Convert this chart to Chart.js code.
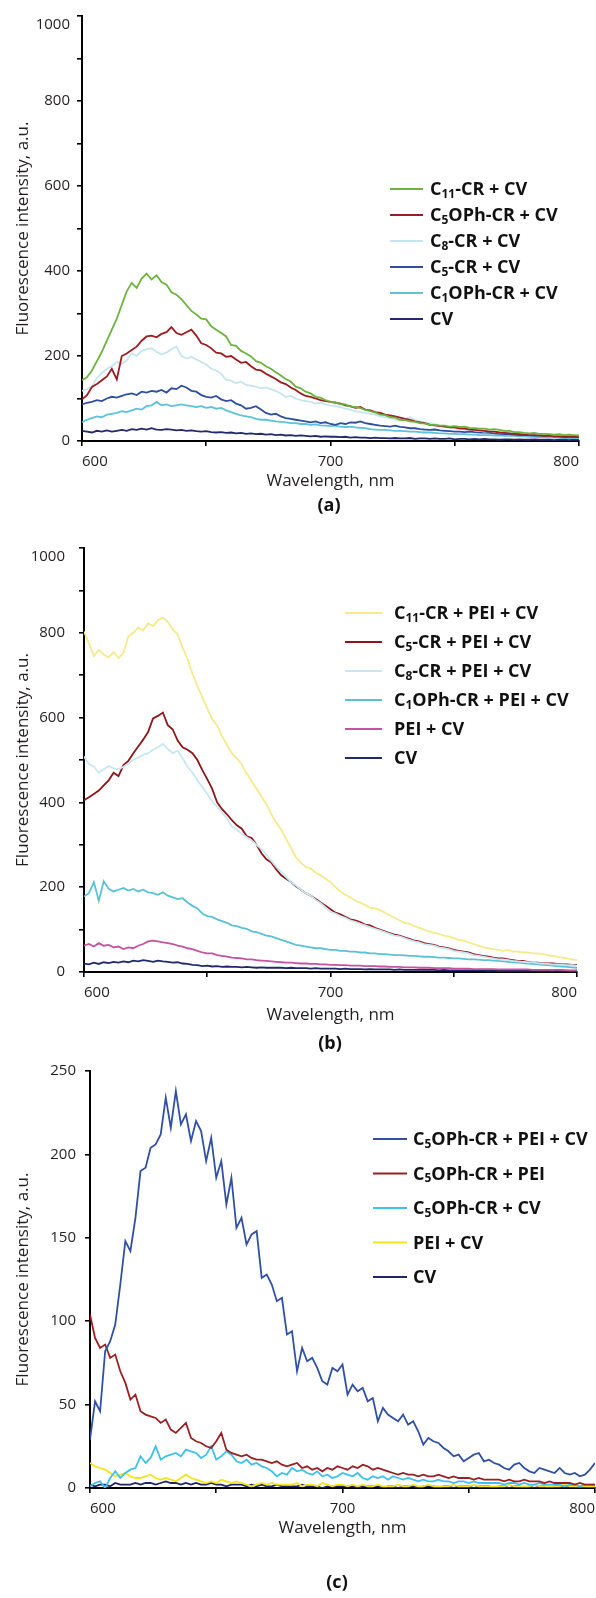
<!DOCTYPE html>
<html>
<head>
<meta charset="utf-8">
<script src="https://cdn.jsdelivr.net/npm/chart.js@4.4.1/dist/chart.umd.min.js"></script>
<style>
  html, body { margin: 0; padding: 0; background: #fff; }
  body { width: 596px; height: 1598px; position: relative; overflow: hidden; }
  canvas { position: absolute; left: 0; }
</style>
</head>
<body>
<canvas id="panelA" width="596" height="525" style="top:0px;width:596px;height:525px"></canvas>
<canvas id="panelB" width="596" height="530" style="top:525px;width:596px;height:530px"></canvas>
<canvas id="panelC" width="596" height="543" style="top:1055px;width:596px;height:543px"></canvas>
<script>
// Emission wavelengths (nm), shared by every spectrum
const wavelengths = [
  600,602,604,606,608,610,612,614,616,618,
  620,622,624,626,628,630,632,634,636,638,
  640,642,644,646,648,650,652,654,656,658,
  660,662,664,666,668,670,672,674,676,678,
  680,682,684,686,688,690,692,694,696,698,
  700,702,704,706,708,710,712,714,716,718,
  720,722,724,726,728,730,732,734,736,738,
  740,742,744,746,748,750,752,754,756,758,
  760,762,764,766,768,770,772,774,776,778,
  780,782,784,786,788,790,792,794,796,798,
  800
];

const xTickLabels = [600, 700, 800];
const yTickLabelsAB = [0, 200, 400, 600, 800, 1000];
const yTickLabelsC = [0, 50, 100, 150, 200, 250];

// ---- Panel (a): calixresorcinarenes + CV ----
const legendA = ['C₁₁-CR + CV', 'C₅OPh-CR + CV', 'C₈-CR + CV', 'C₅-CR + CV', 'C₁OPh-CR + CV', 'CV'];
const c11CrCv = [
  143,150,166,188,210,236,262,288,320,352,
  372,360,382,394,380,390,374,368,350,344,
  334,320,306,298,288,286,270,262,254,246,
  226,224,212,206,199,188,184,176,170,162,
  154,146,140,128,124,116,112,104,102,96,
  92,91,86,86,81,80,78,73,70,67,
  62,61,56,55,50,49,46,45,42,41,
  38,38,36,36,34,35,33,34,31,30,
  29,29,27,28,26,24,24,21,21,19,
  18,19,17,17,16,15,16,14,15,14,
  13
];
const c5OPhCrCvA = [
  98,108,127,134,143,152,170,145,200,206,
  214,222,236,246,248,244,252,256,268,254,
  250,256,262,248,230,226,218,208,206,198,
  200,192,184,186,176,168,166,158,152,146,
  138,134,126,120,112,106,104,100,96,94,
  92,90,88,84,82,78,80,74,72,68,
  66,62,60,58,55,52,50,46,44,42,
  38,37,35,34,32,32,30,29,27,26,
  25,24,22,22,20,19,18,17,16,15,
  14,14,13,12,12,11,11,10,10,10,
  9
];
const c8CrCv = [
  118,122,128,148,160,170,176,186,182,190,
  206,200,212,216,218,210,204,208,216,222,
  200,194,198,192,186,180,170,166,158,144,
  142,136,140,132,130,128,124,126,122,118,
  112,104,106,100,96,94,92,88,90,86,
  84,82,80,76,74,70,68,66,64,62,
  58,56,54,50,48,52,56,50,46,44,
  42,40,36,34,32,30,28,26,27,25,
  24,22,23,22,20,21,19,18,18,17,
  16,15,15,14,13,13,12,12,11,11,
  10
];
const c5CrCv = [
  86,90,92,96,94,100,104,102,106,110,
  112,108,116,114,118,116,120,114,124,122,
  130,126,118,116,108,104,102,106,98,94,
  96,88,84,76,78,82,74,66,62,64,
  58,54,52,50,48,46,44,46,42,44,
  40,38,42,40,44,43,46,42,40,38,
  36,35,34,36,33,32,30,30,28,27,
  26,27,25,24,23,22,22,21,22,21,
  20,20,19,18,17,16,16,15,14,14,
  14,13,13,12,12,11,11,10,10,10,
  9
];
const c1OPhCrCv = [
  44,50,54,58,56,62,64,66,70,68,
  72,76,74,82,84,92,84,86,82,84,
  86,84,82,80,82,78,80,76,78,72,
  68,64,60,58,56,52,50,50,48,46,
  45,44,42,42,40,40,38,39,37,36,
  35,36,34,33,34,32,31,30,28,27,
  26,26,25,24,24,23,22,22,21,20,
  20,19,18,18,17,17,16,16,15,15,
  14,14,14,13,13,12,12,12,11,11,
  10,10,9,9,8,8,8,7,7,7,
  6
];
const cvA = [
  24,22,20,24,22,25,22,24,26,24,
  28,26,29,27,30,27,26,28,27,25,
  26,24,25,23,22,23,21,20,21,19,
  20,18,19,17,18,16,17,15,16,14,
  15,13,14,12,13,12,11,12,10,11,
  10,10,9,10,8,9,8,8,7,8,
  7,7,6,7,6,6,7,5,6,6,
  5,6,5,5,6,4,5,5,4,5,
  4,5,4,4,3,4,4,3,4,3,
  3,4,3,3,3,2,3,3,2,3,
  3
];

// ---- Panel (b): calixresorcinarenes + PEI + CV ----
const legendB = ['C₁₁-CR + PEI + CV', 'C₅-CR + PEI + CV', 'C₈-CR + PEI + CV', 'C₁OPh-CR + PEI + CV', 'PEI + CV', 'CV'];
const c11CrPeiCv = [
  803,775,745,760,748,742,755,740,752,792,
  800,812,806,822,816,830,836,826,808,796,
  765,738,704,674,648,622,596,582,556,536,
  516,504,490,468,450,432,414,396,372,352,
  336,314,292,270,258,248,244,234,228,220,
  212,200,190,182,176,168,164,158,152,150,
  146,140,134,128,122,116,114,108,104,100,
  96,92,90,86,84,80,76,74,70,66,
  62,58,56,54,52,50,52,48,48,46,
  46,44,44,42,40,38,36,34,32,30,
  28
];
const c5CrPeiCv = [
  405,412,420,428,440,452,470,462,488,498,
  516,532,548,566,598,604,612,582,572,546,
  530,524,516,500,476,455,432,400,384,372,
  358,346,338,320,316,300,280,266,258,242,
  228,220,212,202,194,186,180,172,164,156,
  148,140,136,130,124,122,118,112,110,104,
  100,96,92,88,86,82,78,74,72,68,
  66,64,60,58,56,52,50,48,46,42,
  40,38,36,34,32,32,30,28,26,26,
  24,22,22,21,20,20,19,18,18,17,
  17
];
const c8CrPeiCv = [
  508,490,484,470,478,486,480,478,484,492,
  500,506,512,516,524,530,538,526,516,522,
  504,484,470,452,436,420,402,390,376,362,
  343,336,326,318,310,300,290,276,262,248,
  236,224,212,204,194,186,180,170,162,152,
  142,138,132,128,122,118,114,110,106,102,
  98,94,90,86,84,80,76,72,70,66,
  64,62,58,56,54,50,48,46,44,40,
  38,36,34,32,30,30,28,26,25,24,
  23,22,21,20,19,18,18,17,16,16,
  15
];
const c1OPhCrPeiCv = [
  178,186,212,168,214,196,190,194,198,192,
  196,190,194,188,186,182,188,180,176,172,
  174,164,156,150,138,132,130,124,120,116,
  110,108,104,102,96,94,90,86,84,80,
  76,72,68,64,62,60,58,56,56,54,
  52,52,50,50,48,48,46,46,44,44,
  42,42,41,40,40,39,38,38,37,36,
  36,35,34,34,33,32,32,31,30,30,
  29,28,28,27,26,25,24,23,22,21,
  20,19,18,17,16,15,14,13,12,11,
  10
];
const peiCvB = [
  62,66,60,68,62,64,58,60,54,58,
  56,62,66,72,74,72,70,68,66,62,
  60,56,54,50,46,44,44,40,38,36,
  34,33,32,30,30,28,27,26,25,24,
  23,22,22,21,20,20,19,19,18,18,
  17,17,16,16,15,15,15,14,14,14,
  13,13,12,12,12,11,11,11,10,10,
  10,9,9,9,9,8,8,8,8,7,
  7,7,7,7,6,6,6,6,6,6,
  6,5,5,5,5,5,5,5,4,4,
  4
];
const cvB = [
  20,18,22,19,23,21,24,22,25,23,
  27,25,28,26,24,27,25,24,22,23,
  20,19,17,16,14,15,13,14,12,13,
  12,12,11,12,11,10,11,10,10,10,
  10,9,10,9,9,9,8,9,8,8,
  8,8,7,8,7,7,7,6,7,6,
  6,6,6,5,6,5,5,5,5,5,
  5,5,4,5,4,4,4,4,4,4,
  4,4,3,4,3,3,3,3,3,3,
  3,3,3,3,3,2,3,2,3,2,
  3
];

// ---- Panel (c): C5OPh-CR combinations ----
const legendC = ['C₅OPh-CR + PEI + CV', 'C₅OPh-CR + PEI', 'C₅OPh-CR + CV', 'PEI + CV', 'CV'];
const c5OPhCrPeiCv = [
  29,52,46,82,88,98,122,148,142,162,
  190,192,204,206,212,234,216,238,218,224,
  208,220,214,196,210,186,196,170,186,156,
  162,146,152,154,126,128,122,112,114,92,
  94,70,84,76,78,72,64,62,72,70,
  74,56,62,58,60,52,54,40,48,44,
  42,40,44,38,40,34,26,30,28,27,
  24,22,19,20,16,18,20,21,16,17,
  15,14,12,11,14,15,12,10,9,12,
  11,10,9,12,9,8,9,7,8,11,
  15
];
const c5OPhCrPei = [
  104,90,84,86,78,80,70,63,53,56,
  46,44,43,42,39,41,35,33,36,39,
  30,28,27,25,24,28,33,23,21,20,
  19,20,18,17,17,16,15,16,14,13,
  14,15,12,13,11,12,10,12,11,13,
  12,11,13,12,14,13,11,12,11,10,
  9,8,9,8,8,7,8,7,7,8,
  7,6,7,6,6,6,5,6,5,5,
  5,5,4,5,4,4,5,4,4,4,
  3,4,3,3,3,3,2,3,2,2,
  2
];
const c5OPhCrCvC = [
  1,3,4,0,6,10,6,9,11,12,
  19,15,18,25,17,19,20,21,19,23,
  22,21,18,20,25,17,19,22,20,16,
  15,17,14,15,13,12,10,7,9,8,
  12,10,11,9,8,10,7,8,6,7,
  9,8,7,9,6,5,7,6,7,5,
  7,6,5,6,5,4,5,4,4,5,
  4,4,3,4,4,3,4,3,3,3,
  3,3,2,3,3,2,3,2,2,3,
  2,2,2,2,1,2,2,1,2,2,
  2
];
const peiCvC = [
  15,13,12,11,9,7,8,9,7,6,
  6,7,8,6,5,6,5,4,6,8,
  6,5,4,3,4,3,5,4,3,4,
  3,2,1,2,3,2,3,2,2,2,
  2,3,1,2,2,1,3,2,1,2,
  2,1,2,1,2,1,1,2,1,1,
  1,2,1,1,2,1,1,2,1,1,
  1,1,2,1,1,1,2,1,1,1,
  1,1,1,2,1,1,1,1,2,1,
  1,1,1,1,2,1,1,1,1,1,
  1
];
const cvC = [
  2,1,2,2,1,3,2,2,2,3,
  2,3,3,2,3,4,3,3,2,3,
  2,3,2,2,3,2,2,1,2,2,
  2,1,2,1,2,1,1,2,1,1,
  1,1,2,1,1,1,0,1,1,1,
  1,1,1,0,1,1,1,1,0,1,
  1,0,1,1,1,0,1,1,1,0,
  1,1,0,1,1,1,0,1,1,1,
  0,1,1,0,1,1,0,1,0,1,
  1,0,1,1,0,1,1,0,1,0,
  1
];

// ---------------------------------------------------------------
const FONT = "'Open Sans', 'Noto Sans', 'DejaVu Sans', sans-serif";
const INK = '#231f20';
const SUBS = '₀₁₂₃₄₅₆₇₈₉';

// Draws a label, rendering subscript digits as small lowered numerals
function drawRichLabel(ctx, text, x, y, size) {
  let cx = x;
  for (const ch of text) {
    const si = SUBS.indexOf(ch);
    if (si >= 0) {
      ctx.font = `bold ${Math.round(size * 0.66)}px ${FONT}`;
      ctx.fillText(String(si), cx, y + size * 0.12);
      cx += ctx.measureText(String(si)).width;
    } else {
      ctx.font = `bold ${size}px ${FONT}`;
      ctx.fillText(ch, cx, y);
      cx += ctx.measureText(ch).width;
    }
  }
}

const sideLegend = {
  id: 'sideLegend',
  afterDatasetsDraw(chart, args, opts) {
    const ctx = chart.ctx;
    ctx.save();
    chart.data.datasets.forEach((ds, i) => {
      const y = opts.y + i * opts.gap;
      ctx.strokeStyle = ds.borderColor;
      ctx.lineWidth = 2;
      ctx.beginPath();
      ctx.moveTo(opts.x1, y);
      ctx.lineTo(opts.x2, y);
      ctx.stroke();
      ctx.fillStyle = '#111';
      ctx.textBaseline = 'alphabetic';
      ctx.textAlign = 'left';
      drawRichLabel(ctx, ds.label, opts.tx, y + opts.size * 0.36, opts.size);
    });
    ctx.restore();
  }
};

const panelTag = {
  id: 'panelTag',
  afterDraw(chart, args, opts) {
    const ctx = chart.ctx;
    ctx.save();
    ctx.font = `bold 18px ${FONT}`;
    ctx.fillStyle = '#111';
    ctx.textAlign = 'center';
    ctx.textBaseline = 'middle';
    ctx.fillText(opts.text, opts.x, opts.y);
    ctx.restore();
  }
};

function series(values) {
  return wavelengths.map((w, i) => ({ x: w, y: values[i] }));
}

function makePanel(id, lay, yMax, yStep, yLabels, sets, legend, tag) {
  new Chart(document.getElementById(id), {
    type: 'line',
    data: {
      datasets: sets.map(s => ({
        label: s.label,
        data: series(s.values),
        borderColor: s.color,
        borderWidth: 1.8,
        pointRadius: 0,
        tension: 0,
        fill: false,
        order: s.order
      }))
    },
    options: {
      responsive: false,
      animation: false,
      devicePixelRatio: 1,
      layout: { padding: { left: 0, top: lay.top, right: lay.right, bottom: lay.bottom } },
      plugins: {
        legend: { display: false },
        tooltip: { enabled: false },
        sideLegend: legend,
        panelTag: tag
      },
      scales: {
        x: {
          type: 'linear',
          min: 600,
          max: 800,
          ticks: {
            stepSize: 50,
            autoSkip: false,
            maxRotation: 0,
            align: 'inner',
            padding: 7,
            color: INK,
            font: { family: FONT, size: 15 },
            callback: v => xTickLabels.includes(v) ? String(v) : ''
          },
          grid: { drawOnChartArea: false, drawTicks: true, tickLength: 5, color: '#000', lineWidth: 1.6 },
          border: { display: true, color: '#000', width: 2 },
          title: {
            display: true,
            text: 'Wavelength, nm',
            color: INK,
            font: { family: FONT, size: 17 },
            padding: { top: 0, bottom: 0 }
          },
          afterFit: s => { s.height = lay.xh; s.paddingLeft = 0; s.paddingRight = 0; }
        },
        y: {
          type: 'linear',
          min: 0,
          max: yMax,
          ticks: {
            stepSize: yStep,
            autoSkip: false,
            padding: lay.ypad,
            color: INK,
            font: { family: FONT, size: 15 },
            // the top label sits a little below its tick mark
            callback: v => {
              if (!yLabels.includes(v)) return '';
              return (lay.dropTop && v === yMax) ? ['', String(v)] : String(v);
            }
          },
          grid: { drawOnChartArea: false, drawTicks: true, tickLength: 5, color: '#000', lineWidth: 1.6 },
          border: { display: true, color: '#000', width: 2 },
          title: {
            display: true,
            text: 'Fluorescence intensity, a.u.',
            color: INK,
            font: { family: FONT, size: 17 },
            padding: { top: 13, bottom: 0 }
          },
          afterFit: s => { s.width = lay.left; s.paddingTop = 0; s.paddingBottom = 0; }
        }
      }
    },
    plugins: [sideLegend, panelTag]
  });
}

makePanel('panelA',
  { left: 82, top: 16, right: 17, bottom: 34, xh: 50, ypad: 7, dropTop: true },
  1000, 100, yTickLabelsAB,
  [
    { label: legendA[0], values: c11CrCv,    color: '#6cb33f', order: 0 },
    { label: legendA[1], values: c5OPhCrCvA, color: '#9e1b20', order: 1 },
    { label: legendA[2], values: c8CrCv,     color: '#c6e5f0', order: 2 },
    { label: legendA[3], values: c5CrCv,     color: '#2f4f9e', order: 3 },
    { label: legendA[4], values: c1OPhCrCv,  color: '#5cc3da', order: 4 },
    { label: legendA[5], values: cvA,        color: '#232a6b', order: 5 }
  ],
  { x1: 390, x2: 423, tx: 430, y: 189, gap: 26, size: 18 },
  { text: '(a)', x: 329, y: 506 }
);

makePanel('panelB',
  { left: 84, top: 23, right: 19, bottom: 30, xh: 53, ypad: 14, dropTop: true },
  1000, 100, yTickLabelsAB,
  [
    { label: legendB[0], values: c11CrPeiCv,   color: '#f6ea8a', order: 0 },
    { label: legendB[1], values: c5CrPeiCv,    color: '#8e1518', order: 2 },
    { label: legendB[2], values: c8CrPeiCv,    color: '#c9e7f2', order: 1 },
    { label: legendB[3], values: c1OPhCrPeiCv, color: '#5bc1d7', order: 3 },
    { label: legendB[4], values: peiCvB,       color: '#c553a0', order: 4 },
    { label: legendB[5], values: cvB,          color: '#1f2a6a', order: 5 }
  ],
  { x1: 345, x2: 382, tx: 394, y: 88, gap: 29, size: 18 },
  { text: '(b)', x: 330, y: 519 }
);

makePanel('panelC',
  { left: 90, top: 16, right: 1, bottom: 60, xh: 50, ypad: 9, dropTop: false },
  250, 50, yTickLabelsC,
  [
    { label: legendC[0], values: c5OPhCrPeiCv, color: '#3150a3', order: 0 },
    { label: legendC[1], values: c5OPhCrPei,   color: '#9b1f23', order: 1 },
    { label: legendC[2], values: c5OPhCrCvC,   color: '#3ec1ee', order: 2 },
    { label: legendC[3], values: peiCvC,       color: '#f4e51a', order: 3 },
    { label: legendC[4], values: cvC,          color: '#1f2566', order: 4 }
  ],
  { x1: 373, x2: 407, tx: 413, y: 84, gap: 34.5, size: 18 },
  { text: '(c)', x: 337, y: 528 }
);
</script>
</body>
</html>
